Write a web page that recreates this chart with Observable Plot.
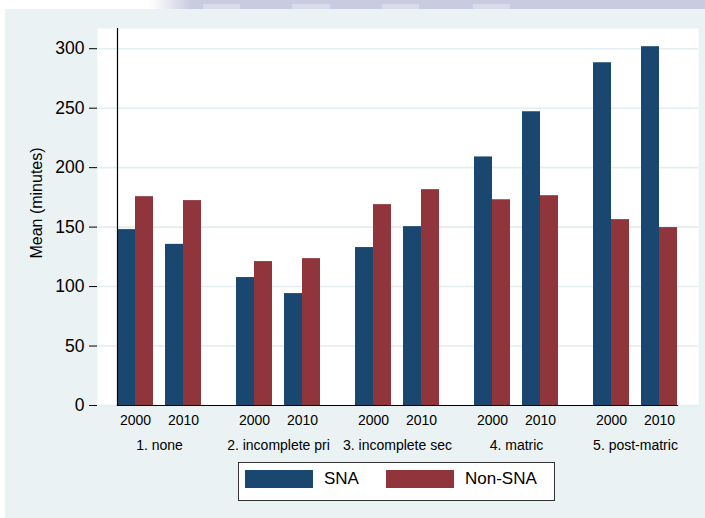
<!DOCTYPE html>
<html>
<head>
<meta charset="utf-8">
<script src="https://cdn.jsdelivr.net/npm/d3@7"></script>
<script src="https://cdn.jsdelivr.net/npm/@observablehq/plot@0.6"></script>
<style>
  html, body { margin: 0; padding: 0; background: #ffffff; }
  #page { position: relative; width: 705px; height: 518px; overflow: hidden;
          font-family: "Liberation Sans", Arial, Helvetica, sans-serif; }
  #strip { position: absolute; left: 0; top: 0; width: 705px; height: 9px;
    background:
      linear-gradient(to right, transparent 0, transparent 203px, #d9dbea 203px, #d9dbea 240px, transparent 240px, transparent 292px, #d9dbea 292px, #d9dbea 330px, transparent 330px, transparent 382px, #d9dbea 382px, #d9dbea 419px, transparent 419px, transparent 473px, #d9dbea 473px, #d9dbea 510px, transparent 510px) 0 4px / 705px 5px no-repeat,
      linear-gradient(to right, #ffffff 0, #ffffff 150px, #c9cbe0 192px, #c9cbe0 705px); }
  #bg { position: absolute; left: 5px; top: 9px; width: 700px; height: 509px; background: #eaf2f3; }
  .layer { position: absolute; left: 0; top: 0; }
  #legend { position: absolute; left: 238px; top: 462px; width: 315px; height: 37px;
            background: #ffffff; border: 1px solid #333; box-sizing: content-box; }
  .item { position: absolute; top: 6px; display: flex; align-items: center; font-size: 17px; color: #000; }
  .sw { width: 68px; height: 18px; margin-right: 11px; }
</style>
</head>
<body>
<div id="page">
  <div id="strip"></div>
  <div id="bg"></div>
  <div id="base" class="layer"></div>
  <div id="bars" class="layer"></div>
  <div id="legend"></div>
</div>
<script>
const groups = ["1. none", "2. incomplete pri", "3. incomplete sec", "4. matric", "5. post-matric"];
const years = ["2000", "2010"];
const seriesNames = ["SNA", "Non-SNA"];
const seriesColors = ["#1a476f", "#90353b"];
const sna2000 = [147.9, 107.6, 132.8, 209, 288.2];
const sna2010 = [135.5, 94.1, 150.4, 247, 301.7];
const nonSna2000 = [175.6, 121, 168.9, 173, 156.3];
const nonSna2010 = [172.3, 123.5, 181.5, 176.4, 149.6];
const yTicks = [0, 50, 100, 150, 200, 250, 300];
const yTitle = "Mean (minutes)";

const values = { "SNA": { "2000": sna2000, "2010": sna2010 },
                 "Non-SNA": { "2000": nonSna2000, "2010": nonSna2010 } };
const data = [];
groups.forEach((g, i) => years.forEach(yr => seriesNames.forEach(s =>
  data.push({ group: g, year: yr, series: s, value: values[s][yr][i] }))));

const font = "'Liberation Sans', Arial, Helvetica, sans-serif";
const dims = { width: 705, height: 460, marginTop: 28, marginBottom: 55, marginLeft: 97, marginRight: 7 };
const yScale = { domain: [0, 317] };

// Layer 1: plot area, grid and y axis
const base = Plot.plot({
  ...dims,
  style: { background: "transparent", fontFamily: font, color: "#000" },
  y: yScale,
  marks: [
    Plot.frame({ fill: "white", stroke: "none" }),
    Plot.gridY({ ticks: yTicks, stroke: "#e4edef", strokeOpacity: 1, strokeWidth: 1.6 }),
    Plot.axisY({ ticks: yTicks, tickSize: 8, tickPadding: 5, fontSize: 17.5, label: null }),
    Plot.text([yTitle], { frameAnchor: "left", rotate: -90, dx: -61, dy: -14,
      fontSize: 16, fill: "#000", textAnchor: "middle" })
  ]
});
document.getElementById("base").appendChild(base);

// Layer 2: grouped bars, faceted by education group
const bars = Plot.plot({
  ...dims,
  style: { background: "transparent", fontFamily: font, color: "#000" },
  fx: { domain: groups, paddingInner: 0.294, paddingOuter: 0.172 },
  x: { domain: years, paddingInner: 0.25, paddingOuter: 0 },
  y: { ...yScale, axis: null },
  color: { domain: seriesNames, range: seriesColors },
  marks: [
    Plot.barY(data.filter(d => d.series === "SNA"),
      { fx: "group", x: "year", y: "value", fill: "series", insetRight: 18 }),
    Plot.barY(data.filter(d => d.series === "Non-SNA"),
      { fx: "group", x: "year", y: "value", fill: "series", insetLeft: 18 }),
    Plot.frame({ anchor: "left", stroke: "#000", strokeWidth: 1.2, facet: "super" }),
    Plot.frame({ anchor: "bottom", stroke: "#000", strokeWidth: 1.2, facet: "super" }),
    Plot.axisX({ tickSize: 0, tickPadding: 10, fontSize: 14, label: null }),
    Plot.axisFx({ anchor: "bottom", tickSize: 0, tickPadding: 35, fontSize: 14, label: null })
  ]
});
document.getElementById("bars").appendChild(bars);

const legend = document.getElementById("legend");
const lefts = [6, 147];
seriesNames.forEach((s, i) => {
  const item = document.createElement("div");
  item.className = "item";
  item.style.left = lefts[i] + "px";
  const sw = document.createElement("div");
  sw.className = "sw";
  sw.style.background = seriesColors[i];
  const t = document.createElement("span");
  t.textContent = s;
  item.appendChild(sw);
  item.appendChild(t);
  legend.appendChild(item);
});
</script>
</body>
</html>
